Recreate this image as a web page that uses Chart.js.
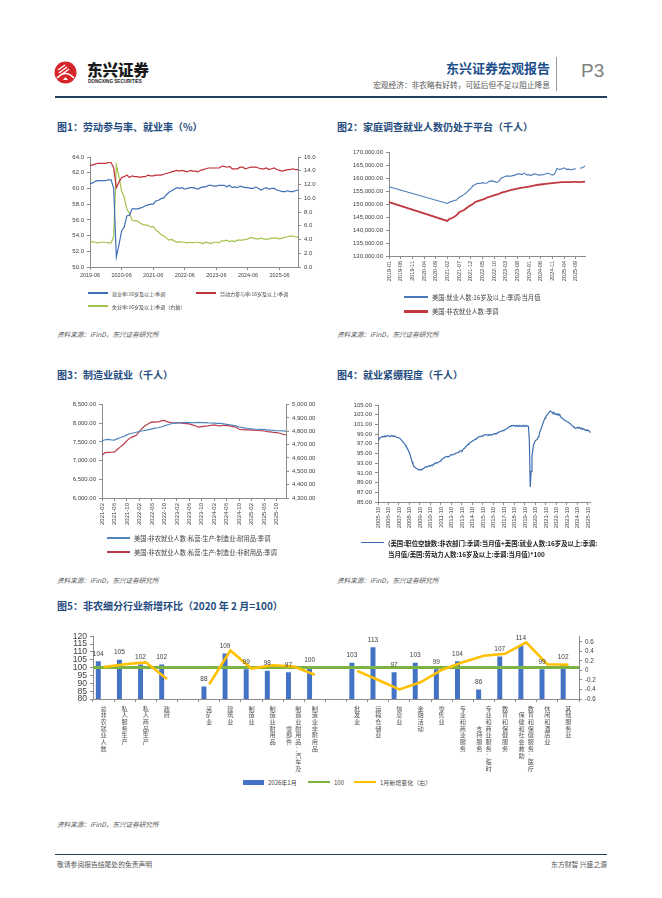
<!DOCTYPE html>
<html lang="zh-CN">
<head>
<meta charset="utf-8">
<title>东兴证券宏观报告 P3</title>
<script src="https://cdn.jsdelivr.net/npm/chart.js@4.4.1/dist/chart.umd.min.js"></script>
<style>
  html, body { margin: 0; padding: 0; background: #fff; }
  #page { position: relative; width: 662px; height: 898px; overflow: hidden; background: #fff;
          font-family: "Noto Sans CJK SC", "Liberation Sans", sans-serif; color: #333; }
  .t { position: absolute; white-space: nowrap; }
  .title { font-size: 10px; font-weight: bold; color: #1f4b7e; line-height: 12px; }
  .src { font-size: 6.6px; font-style: italic; color: #555; line-height: 9px; }
  .box { position: absolute; }
  .lg { position: absolute; display: flex; align-items: center; height: 8px; white-space: nowrap; color: #444; }
  .lg i { display: inline-block; margin-right: 4px; flex: none; }
</style>
</head>
<body>
<div id="page">
  <!-- header -->
  <svg class="t" style="left:52px;top:60px" width="28" height="26" viewBox="0 0 28 26">
    <circle cx="13.5" cy="12.5" r="11" fill="#d6262c"/>
    <path d="M5 18 Q13.5 9 22 18" stroke="#fff" stroke-width="1.6" fill="none"/>
    <path d="M6 10 L13 5 M7 13 L15 7 M9 15 L17 9" stroke="#fff" stroke-width="1.3"/>
    <path d="M11 20 L13.5 17 L16 20 Z" fill="#fff"/>
  </svg>
  <div class="t" style="left:87px;top:60px;font-size:15.5px;font-weight:900;color:#1a1a1a;line-height:18px;">东兴证券</div>
  <div class="t" style="left:88px;top:79px;font-family:'Liberation Sans';font-size:4.6px;font-weight:bold;color:#222;">DONGXING SECURITIES</div>
  <div class="t" style="right:112px;top:60px;font-size:13px;font-weight:bold;color:#1d4f8c;line-height:16px;">东兴证券宏观报告</div>
  <div class="t" style="right:112px;top:80px;font-size:7.7px;color:#555;line-height:10px;">宏观经济：非农略有好转，可延后但不足以阻止降息</div>
  <div class="t" style="left:556px;top:57px;width:1px;height:34px;background:#999;"></div>
  <div class="t" style="left:581px;top:59px;font-family:'Liberation Sans';font-size:19px;color:#808080;line-height:24px;">P3</div>
  <div class="t" style="left:55px;top:96px;width:552px;height:2px;background:#1f3f5f;"></div>

  <!-- titles -->
  <div class="t title" style="left:57px;top:121px;">图1：劳动参与率、就业率（%）</div>
  <div class="t title" style="left:337px;top:121px;">图2：家庭调查就业人数仍处于平台（千人）</div>
  <div class="t title" style="left:57px;top:369px;">图3：制造业就业（千人）</div>
  <div class="t title" style="left:337px;top:369px;">图4：就业紧绷程度（千人）</div>
  <div class="t title" style="left:57px;top:600px;">图5：非农细分行业新增环比（2020 年 2 月=100）</div>

  <!-- charts -->
  <div class="box" style="left:57px;top:147px;width:265px;height:135px;"><canvas id="c1"></canvas></div>
  <div class="box" style="left:337px;top:145px;width:256px;height:157px;"><canvas id="c2"></canvas></div>
  <div class="box" style="left:57px;top:398px;width:265px;height:150px;"><canvas id="c3"></canvas></div>
  <div class="box" style="left:337px;top:398px;width:260px;height:150px;"><canvas id="c4"></canvas></div>
  <div class="box" style="left:57px;top:628px;width:550px;height:147px;"><canvas id="c5"></canvas></div>

  <!-- sources -->
  <div class="t src" style="left:57px;top:330px;">资料来源：iFinD，东兴证券研究所</div>
  <div class="t src" style="left:337px;top:330px;">资料来源：iFinD，东兴证券研究所</div>
  <div class="t src" style="left:57px;top:576px;">资料来源：iFinD，东兴证券研究所</div>
  <div class="t src" style="left:337px;top:576px;">资料来源：iFinD，东兴证券研究所</div>
  <div class="t src" style="left:57px;top:820px;">资料来源：iFinD，东兴证券研究所</div>

  <!-- footer -->
  <div class="t" style="left:55px;top:854px;width:552px;height:1px;background:#1f3f5f;"></div>
  <div class="t" style="left:57px;top:859px;font-size:6.8px;color:#555;">敬请参阅报告结尾处的免责声明</div>
  <div class="t" style="right:55px;top:859px;font-size:6.8px;color:#555;">东方财智 兴盛之源</div>
</div>

<script>
// ---------- data ----------
// 图1  2019-06 .. 2026-01
var empRate = [60.6,60.7,60.9,61.0,61.0,61.0,61.0,
  61.1,61.1,60.0,51.3,52.8,54.6,55.1,56.5,56.6,57.4,57.4,57.4,
  57.5,57.6,57.8,57.9,58.0,58.0,58.4,58.5,58.7,58.8,59.2,59.5,
  59.7,59.9,60.1,60.0,60.1,59.9,60.0,60.1,60.1,60.0,59.9,60.1,
  60.2,60.2,60.4,60.4,60.3,60.3,60.4,60.4,60.4,60.2,60.4,60.1,
  60.2,60.1,60.3,60.2,60.1,60.1,60.0,60.0,60.2,60.0,59.8,60.0,
  60.1,59.9,60.0,60.0,59.8,59.7,59.6,59.6,59.7,59.6,59.6,59.7,
  59.8];
var partRate = [62.9,63.0,63.1,63.2,63.2,63.2,63.2,
  63.3,63.3,62.6,60.1,60.8,61.4,61.5,61.7,61.4,61.6,61.5,61.5,
  61.4,61.5,61.5,61.7,61.6,61.6,61.7,61.7,61.7,61.8,61.9,62.0,
  62.1,62.2,62.3,62.2,62.3,62.2,62.1,62.3,62.2,62.2,62.1,62.3,
  62.4,62.5,62.6,62.6,62.6,62.6,62.6,62.8,62.8,62.7,62.8,62.5,
  62.5,62.5,62.7,62.7,62.5,62.6,62.7,62.7,62.7,62.6,62.5,62.5,
  62.6,62.4,62.5,62.6,62.4,62.3,62.2,62.3,62.4,62.4,62.5,62.4,
  62.4];
var unempRate = [3.6,3.7,3.6,3.5,3.6,3.6,3.6,
  3.5,3.5,4.4,14.8,13.2,11.0,10.2,8.4,7.8,6.8,6.7,6.7,
  6.4,6.2,6.1,6.1,5.8,5.9,5.4,5.1,4.7,4.5,4.2,3.9,
  4.0,3.8,3.6,3.7,3.6,3.6,3.5,3.6,3.5,3.6,3.6,3.5,
  3.4,3.6,3.5,3.4,3.6,3.6,3.5,3.8,3.8,3.9,3.7,3.8,
  3.7,3.9,3.9,3.9,4.0,4.1,4.3,4.2,4.1,4.1,4.2,4.1,
  4.0,4.1,4.2,4.2,4.2,4.1,4.2,4.3,4.4,4.5,4.5,4.4,
  4.3];

// 图2  2019-01 .. 2026-01 (monthly observations start at 2021-02)
var hhEmployed = [156600,
  null,null,null,null,null,null,null,null,null,null,null,null,
  null,null,null,null,null,null,null,null,null,null,null,null,
  150200,150800,151000,151400,151500,152500,153000,153600,154100,155100,155900,
  157000,157500,158000,157900,158200,158000,158100,158700,158900,158700,158300,158600,
  159900,160300,160700,160800,160700,160900,161100,161500,161600,161300,161900,161200,
  161200,161000,161500,161500,161100,161200,161300,161500,161900,161500,161100,161600,
  163700,163300,163500,163900,163300,163400,163100,163400,163600,null,163700,164000,
  164600];
var nonfarm = [150700,
  null,null,null,null,null,null,null,null,null,null,null,null,
  null,null,null,null,null,null,null,null,null,null,null,null,
  143500,144300,144600,145100,145700,146700,147200,147600,148300,148900,149500,
  150000,150800,151100,151400,151700,152000,152500,152700,153000,153300,153600,153800,
  154300,154600,154800,155000,155300,155500,155700,155900,156100,156300,156400,156600,
  156700,156900,157100,157300,157400,157500,157600,157700,157800,157900,158000,158100,
  158200,158300,158400,158400,158400,158400,158400,158500,158500,158400,158400,158500,
  158600];
var monthlyStart2 = 25;

// 图3  2021-02 .. 2026-01
var durable = [7530,7560,7570,7555,7550,7590,7620,7650,7690,7720,7740,
  7760,7780,7800,7810,7830,7850,7870,7880,7900,7930,7960,7980,
  8000,8010,8020,8020,8025,8020,8020,8020,8025,8020,8015,8010,
  8008,8005,8000,7995,7985,7972,7960,7945,7930,7900,7885,7870,
  7860,7850,7840,7840,7835,7830,7825,7815,7810,7800,7800,7795,
  7790];
var nondurable = [4620,4640,4642,4643,4645,4665,4685,4705,4730,4750,4760,
  4770,4800,4825,4845,4858,4870,4868,4870,4878,4882,4870,4865,
  4862,4865,4863,4860,4858,4855,4848,4840,4832,4835,4838,4840,
  4845,4848,4842,4840,4845,4843,4840,4835,4830,4815,4812,4810,
  4810,4808,4808,4806,4804,4802,4798,4795,4792,4790,4785,4778,
  4772];

// 图4  2005-10 .. 2026-01
var tightness = [97.8,98.0,98.2,
  98.3,98.4,98.5,98.4,98.5,98.6,98.5,98.6,98.7,98.6,98.5,98.6,
  98.6,98.7,98.6,98.5,98.6,98.5,98.4,98.3,98.3,98.2,98.1,97.9,
  97.7,97.5,97.3,97.1,96.8,96.5,96.2,95.9,95.5,95.1,94.5,93.9,
  93.3,92.8,92.4,92.2,92.0,91.9,91.8,91.7,91.6,91.6,91.7,91.6,
  91.8,91.9,92.0,92.2,92.3,92.2,92.3,92.4,92.5,92.4,92.6,92.5,
  92.7,92.9,93.0,93.1,93.0,93.1,93.2,93.3,93.4,93.6,93.8,93.9,
  94.0,94.2,94.3,94.3,94.4,94.4,94.3,94.5,94.7,94.8,94.7,94.8,
  94.9,95.0,95.1,95.1,95.2,95.2,95.4,95.5,95.6,95.5,95.8,96.0,
  96.1,96.3,96.5,96.7,96.9,97.1,97.2,97.3,97.4,97.6,97.7,97.8,
  97.9,98.0,98.1,98.3,98.4,98.5,98.5,98.6,98.6,98.7,98.8,98.9,
  98.8,98.9,98.8,98.7,98.9,98.8,98.9,98.8,98.9,99.0,99.1,99.0,
  99.1,99.2,99.3,99.4,99.5,99.5,99.6,99.7,99.7,99.8,99.9,100.0,
  100.1,100.2,100.4,100.5,100.6,100.7,100.8,100.7,100.8,100.7,100.6,100.8,
  100.6,100.7,100.6,100.8,100.7,100.6,100.7,100.8,100.6,100.7,100.8,100.6,
  100.7,100.6,97.5,88.1,91.3,94.3,95.9,96.9,97.3,97.7,97.8,97.9,
  98.4,98.8,99.4,99.9,100.4,100.9,101.5,101.9,102.3,102.7,102.9,103.1,
  103.4,103.6,103.8,103.6,103.5,103.3,103.5,103.1,103.2,103.0,103.2,102.9,
  103.1,102.8,102.5,102.3,102.2,102.0,101.9,101.8,101.7,101.6,101.5,101.4,
  101.2,101.1,100.9,100.7,100.6,100.4,100.3,100.2,100.3,100.4,100.2,100.4,
  100.3,100.1,100.2,100.0,100.1,99.9,99.8,99.9,99.7,99.8,99.7,99.5,
  99.3];

// 图5
var sectors = ['总非农就业人数','私人服务生产','私人商品生产','政府','',
  '采矿业','建筑业','制造业','制造业耐用品','制造业耐用品:汽车及零部件','制造业非耐用品','',
  '批发业','运输仓储业','信息业','金融活动','零售业','专业和商业服务','专业和商业服务:临时支持服务',
  '教育和保健服务','教育和保健服务:医疗保健和社会救助','休闲和酒店业','其他服务业'];
var sectorIndex = [104,105,102,102,null,88,109,99,98,97,100,null,103,113,97,103,99,104,86,107,114,99,102];
var janChange = [0.07,0.13,0.17,-0.18,null,-0.29,0.42,0.04,0.11,0.08,-0.09,null,
  -0.01,-0.2,-0.4,-0.25,0.01,0.17,0.31,0.35,0.59,0.13,0.12];
var baseLine = 100;
var rightTicks5 = [-0.6, -0.4, -0.2, 0, 0.2, 0.4, 0.6];

// ---------- helpers ----------
function monthLabels(start, count) {
  var y = +start.slice(0, 4), m = +start.slice(5, 7), out = [];
  for (var i = 0; i < count; i++) {
    out.push(y + '-' + (m < 10 ? '0' : '') + m);
    m++; if (m > 12) { m = 1; y++; }
  }
  return out;
}
function money(v) { return v.toLocaleString('en-US', {minimumFractionDigits: 2, maximumFractionDigits: 2}); }

// vertical stacked labels, second column on the left after 10 characters
function verticalLabel(name) {
  var chars = Array.from(name.replace(/:/g, '：'));
  if (chars.length <= 10) return chars.length ? chars : [''];
  var col1 = chars.slice(0, 10), col2 = chars.slice(10);
  var off = Math.floor((10 - col2.length) / 2);
  return col1.map(function(c, i) {
    var k = i - off;
    return (k >= 0 && k < col2.length ? col2[k] : '\u3000') + '\u2002' + c;
  });
}

Chart.defaults.font.family = '"Liberation Sans", Arial, "Noto Sans CJK SC", sans-serif';
Chart.defaults.color = '#404040';
Chart.defaults.animation = false;
Chart.defaults.responsive = true;
Chart.defaults.maintainAspectRatio = false;
Chart.defaults.plugins.legend.display = false;
Chart.defaults.plugins.tooltip.enabled = false;
Chart.defaults.elements.point.radius = 0;
Chart.defaults.elements.line.tension = 0;

var axisColor = '#8c8c8c';
function xAxis(labels, every, opts) {
  opts = opts || {};
  return {
    ticks: {autoSkip: false, minRotation: opts.rot || 0, maxRotation: opts.rot || 0, padding: 2,
      font: {size: opts.size || 6}, color: '#404040',
      callback: function(v, i) { return i % every === 0 ? labels[i] : null; }},
    grid: {drawOnChartArea: false, tickLength: 3, color: axisColor},
    border: {color: axisColor},
    afterFit: function(s) { s.height = opts.h; }
  };
}
function yAxis(pos, min, max, step, fmt, width, size) {
  return {
    position: pos, min: min, max: max,
    ticks: {stepSize: step, autoSkip: false, callback: fmt, font: {size: size || 6}, color: '#404040', padding: 3},
    grid: {drawOnChartArea: false, tickLength: 3, color: axisColor},
    border: {color: axisColor},
    afterFit: function(s) { s.width = width; }
  };
}

function addLegend(chart, items, fontSize) {
  var page = document.getElementById('page');
  items.forEach(function(it) {
    var ds = chart.data.datasets[it.ds];
    var d = document.createElement('div');
    d.className = 'lg';
    d.style.left = it.x + 'px';
    d.style.top = (it.y - 4) + 'px';
    d.style.fontSize = fontSize + 'px';
    if (it.bold) { d.style.fontWeight = 'bold'; d.style.color = '#222'; }
    var sw = document.createElement('i');
    sw.style.width = it.w + 'px';
    sw.style.height = it.h + 'px';
    sw.style.background = ds.type === 'bar' ? ds.backgroundColor : ds.borderColor;
    var tx = document.createElement('span');
    tx.textContent = ds.label;
    if (it.wrap) {
      d.style.alignItems = 'flex-start'; d.style.height = 'auto';
      sw.style.marginTop = '4px';
      tx.style.whiteSpace = 'normal'; tx.style.width = it.wrap + 'px'; tx.style.lineHeight = '11px';
    }
    d.appendChild(sw); d.appendChild(tx);
    page.appendChild(d);
  });
}

// ---------- 图1 ----------
var months1 = monthLabels('2019-06', empRate.length);
var c1 = new Chart(document.getElementById('c1'), {
  type: 'line',
  data: {
    labels: months1,
    datasets: [
      {label: '就业率:16岁及以上:季调', data: empRate, borderColor: '#3f6fb6', borderWidth: 1.2, yAxisID: 'y'},
      {label: '劳动力参与率:16岁及以上:季调', data: partRate, borderColor: '#c0313a', borderWidth: 1.2, yAxisID: 'y'},
      {label: '失业率:16岁及以上:季调（右轴）', data: unempRate, borderColor: '#a3c24b', borderWidth: 1.2, yAxisID: 'y2'}
    ]
  },
  options: {
    layout: {padding: {top: 10}},
    scales: {
      x: xAxis(months1, 12, {h: 15, size: 5.5}),
      y: yAxis('left', 50, 64, 2, function(v) { return v.toFixed(1); }, 33),
      y2: yAxis('right', 0, 16, 2, function(v) { return v.toFixed(1); }, 24)
    }
  }
});
addLegend(c1, [
  {ds: 0, x: 88, y: 293, w: 20, h: 1.4},
  {ds: 1, x: 196, y: 293, w: 20, h: 1.4},
  {ds: 2, x: 88, y: 306, w: 20, h: 1.4}
], 5);

// ---------- 图2 ----------
var months2 = monthLabels('2019-01', hhEmployed.length);
function toPoints(arr) {
  return arr.map(function(y, i) { return {x: months2[i], y: y}; })
            .filter(function(p, i) { return p.y !== null || i > monthlyStart2; });
}
var c2 = new Chart(document.getElementById('c2'), {
  type: 'line',
  data: {
    labels: months2,
    datasets: [
      {label: '美国:就业人数:16岁及以上:季调:当月值', data: toPoints(hhEmployed), borderColor: '#4a7ab8', borderWidth: 1.1},
      {label: '美国:非农就业人数:季调', data: toPoints(nonfarm), borderColor: '#c0393f', borderWidth: 1.8}
    ]
  },
  options: {
    layout: {padding: {top: 7, right: 8}},
    scales: {
      x: xAxis(months2, 5, {h: 46, rot: 90, size: 5.5}),
      y: yAxis('left', 130000, 170000, 5000, money, 52)
    }
  }
});
addLegend(c2, [
  {ds: 0, x: 404, y: 297, w: 24, h: 1.2},
  {ds: 1, x: 404, y: 311, w: 24, h: 3}
], 6.3);

// ---------- 图3 ----------
var months3 = monthLabels('2021-02', durable.length);
var c3 = new Chart(document.getElementById('c3'), {
  type: 'line',
  data: {
    labels: months3,
    datasets: [
      {label: '美国:非农就业人数:私营:生产:制造业:耐用品:季调', data: durable, borderColor: '#4f86c0', borderWidth: 1.2, yAxisID: 'y'},
      {label: '美国:非农就业人数:私营:生产:制造业:非耐用品:季调', data: nondurable, borderColor: '#b93a4a', borderWidth: 1.2, yAxisID: 'y2'}
    ]
  },
  options: {
    layout: {padding: {top: 6}},
    scales: {
      x: xAxis(months3, 4, {h: 50, rot: 90, size: 6}),
      y: yAxis('left', 6000, 8500, 500, money, 45),
      y2: yAxis('right', 4300, 5000, 100, money, 36)
    }
  }
});
addLegend(c3, [
  {ds: 0, x: 107, y: 538, w: 23, h: 1.2},
  {ds: 1, x: 107, y: 552, w: 23, h: 1.2}
], 6.3);

// ---------- 图4 ----------
var months4 = monthLabels('2005-10', tightness.length);
var c4 = new Chart(document.getElementById('c4'), {
  type: 'line',
  data: {
    labels: months4,
    datasets: [
      {label: '(美国:职位空缺数:非农部门:季调:当月值+美国:就业人数:16岁及以上:季调:当月值/美国:劳动力人数:16岁及以上:季调:当月值)*100',
       data: tightness, borderColor: '#3d6db0', borderWidth: 1.2}
    ]
  },
  options: {
    layout: {padding: {top: 7, right: 6}},
    scales: {
      x: xAxis(months4, 12, {h: 46, rot: 90, size: 5.8}),
      y: yAxis('left', 85, 105, 2, function(v) { return v.toFixed(2); }, 41)
    }
  }
});
addLegend(c4, [{ds: 0, x: 361, y: 542, w: 23, h: 1.2, bold: true, wrap: 212}], 6.4);

// ---------- 图5 ----------
var barValueLabels = {
  id: 'barValueLabels',
  afterDatasetsDraw: function(chart) {
    var ctx = chart.ctx;
    chart.data.datasets.forEach(function(ds, di) {
      if (ds.type !== 'bar') return;
      var meta = chart.getDatasetMeta(di);
      ctx.save();
      ctx.font = '6.5px "Liberation Sans", Arial';
      ctx.fillStyle = '#404040';
      ctx.textAlign = 'center';
      ctx.textBaseline = 'bottom';
      meta.data.forEach(function(bar, i) {
        if (ds.data[i] == null) return;
        ctx.fillText(ds.data[i], bar.x, bar.y - 4);
      });
      ctx.restore();
    });
  }
};
var rightAxis5 = yAxis('right', -0.6, 0.72, 0.2, function(v) {
  return Math.abs(v) < 1e-9 ? '0' : v.toFixed(1);
}, 28, 6.3);
rightAxis5.afterBuildTicks = function(s) {
  s.ticks = rightTicks5.map(function(v) { return {value: v}; });
};
var c5 = new Chart(document.getElementById('c5'), {
  data: {
    labels: sectors.map(verticalLabel),
    datasets: [
      {type: 'bar', label: '2026年1月', data: sectorIndex, backgroundColor: '#4472c4',
       barPercentage: 0.47, categoryPercentage: 1, yAxisID: 'y', order: 3},
      {type: 'line', label: '100', data: [{x: 0, y: baseLine}, {x: 1, y: baseLine}],
       borderColor: '#7cb342', borderWidth: 3, xAxisID: 'xLine', yAxisID: 'y', order: 2},
      {type: 'line', label: '1月新增变化（右）', data: janChange, borderColor: '#ffc000', borderWidth: 2.6,
       yAxisID: 'y2', order: 1}
    ]
  },
  options: {
    layout: {padding: {top: 6}},
    scales: {
      x: {
        offset: true,
        ticks: {autoSkip: false, minRotation: 0, maxRotation: 0, padding: 3,
          font: {size: 6.2, lineHeight: 1.08, family: '"Noto Sans CJK SC", sans-serif'}, color: '#555'},
        grid: {drawOnChartArea: false, tickLength: 3, color: axisColor, offset: true},
        border: {color: axisColor},
        afterFit: function(s) { s.height = 76; }
      },
      xLine: {type: 'linear', min: 0, max: 1, display: false},
      y: yAxis('left', 80, 120, 5, function(v) { return v; }, 36, 8.6),
      y2: rightAxis5
    }
  },
  plugins: [barValueLabels]
});
addLegend(c5, [
  {ds: 0, x: 243, y: 782, w: 21, h: 5},
  {ds: 1, x: 308, y: 782, w: 22, h: 2.5},
  {ds: 2, x: 354, y: 782, w: 22, h: 2.5}
], 6);
</script>
</body>
</html>
